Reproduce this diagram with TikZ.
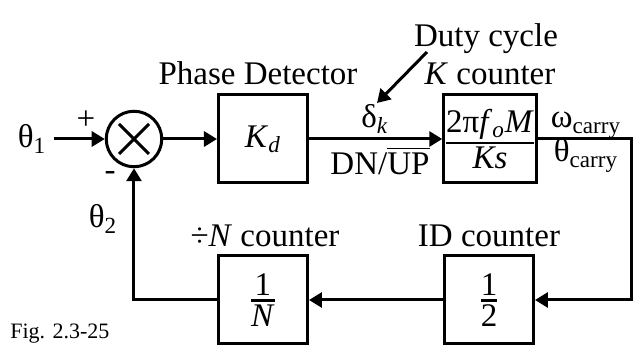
\documentclass[tikz,border=0pt]{standalone}
\usepackage{fontspec}
\usepackage{amsmath}
\setmainfont{Liberation Serif}
\usetikzlibrary{arrows.meta}
\newcommand{\lblfont}{\fontsize{16.5}{19}\selectfont}
\newcommand{\figfont}{\fontsize{11}{13}\selectfont}
\newcommand{\blkfrac}[2]{$\genfrac{}{}{1.3pt}{1}{\mbox{#1}}{\mbox{#2}}$}
\tikzset{
    block/.style={draw, rectangle, line width=1.5pt, minimum width=44.5pt, minimum height=44pt, inner sep=0pt, align=center, font=\lblfont},
    summer/.style={draw, circle, line width=1.5pt, minimum size=27.75pt, inner sep=0pt},
    arrow/.style={draw, -{Triangle[length=6.5pt, width=7.5pt]}, line width=1.5pt},
    wire/.style={draw, line width=1.5pt},
    lbl/.style={inner sep=0pt, anchor=base, font=\lblfont}
}

\begin{document}
\begin{tikzpicture}[x=0.5pt, y=0.5pt]
    \useasboundingbox (0,0) rectangle (634,348);
    % forward path
    \node [summer] (sum) at (134,209) {};
    \node [block] (kd) at (263,209) {\textit{K}\textsubscript{\textit{d}}};
    \node [block] (kc) at (490,209) {\blkfrac{2π\textit{f}\textsubscript{\textit{o}}\textit{M}}{\textit{Ks}}};
    % feedback path
    \node [block] (idc) at (489,48) {\blkfrac{1}{2}};
    \node [block] (nc) at (263,48) {\blkfrac{1}{\textit{N}}};
    \coordinate (rcorner) at (632,48);
    \coordinate (dutytail) at (427,296);
    \coordinate (dutyhead) at (377,245);

    % labels
    \node [lbl] (th1) at (32,200) {θ\textsubscript{1}};
    \node [lbl] (th2) at (103,120) {θ\textsubscript{2}};
    \node [lbl] (plus) at (86,218) {+};
    \node [lbl] (minus) at (110,167) {-};
    \node [lbl] (pdlab) at (258,263) {Phase Detector};
    \node [lbl] (dutylab) at (486,301) {Duty cycle};
    \node [lbl] (kclab) at (490,263) {\textit{K} counter};
    \node [lbl] (dk) at (375,220) {δ\textsubscript{\textit{k}}};
    \node [lbl] (dnup) at (380,173) {DN/$\overline{\mbox{UP}}$};
    \node [lbl] (wc) at (586,220) {ω\textsubscript{carry}};
    \node [lbl] (tc) at (586,186) {θ\textsubscript{carry}};
    \node [lbl] (nclab) at (265,101) {÷\textit{N} counter};
    \node [lbl] (idlab) at (489,101) {ID counter};
    \node [lbl, anchor=base west, font=\figfont] (fig) at (10,9) {Fig. 2.3-25};

    % multiplier cross
    \draw [wire] (sum.center) +(-15,-15) -- +(15,15);
    \draw [wire] (sum.center) +(-15,15) -- +(15,-15);

    \draw [arrow, shorten <=3.5pt] (th1.east |- sum.west) -- (sum.west);
    \draw [arrow] (sum.east) -- (kd.west);
    \draw [arrow] (kd.east) -- (kc.west);
    \draw [arrow] (kc.east) -| (rcorner) -- (idc.east);
    \draw [arrow] (idc.west) -- (nc.east);
    \draw [arrow] (nc.west) -| (sum.south);
    \draw [arrow] (dutytail) -- (dutyhead);
\end{tikzpicture}
\end{document}
